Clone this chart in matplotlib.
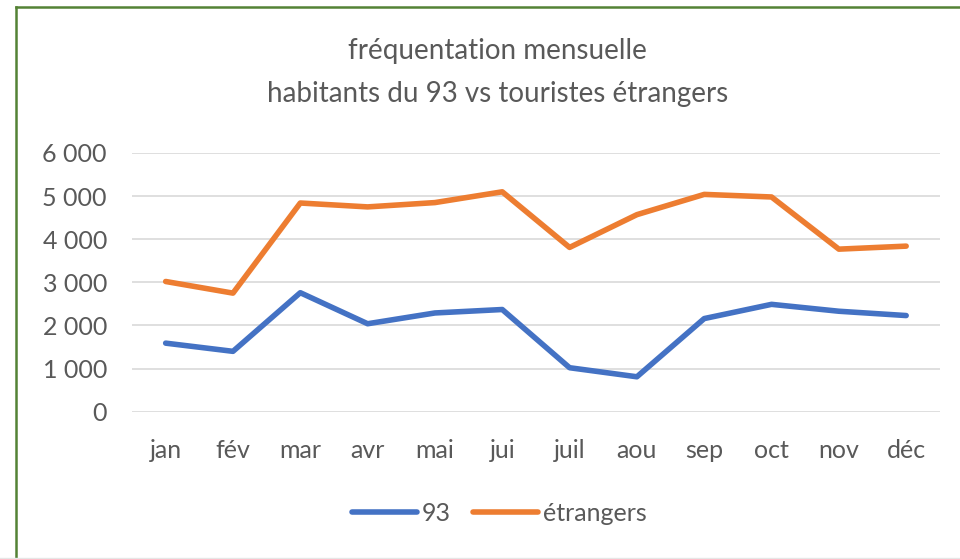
import matplotlib.pyplot as plt
from matplotlib.lines import Line2D
from matplotlib.ticker import FuncFormatter

# monthly visits
mois = ["jan", "fév", "mar", "avr", "mai", "jui", "juil", "aou", "sep", "oct", "nov", "déc"]
habitants_93 = [1590, 1400, 2760, 2040, 2290, 2370, 1020, 810, 2160, 2490, 2330, 2230]
etrangers = [3020, 2750, 4840, 4750, 4850, 5100, 3810, 4570, 5040, 4980, 3770, 3840]

plt.rcParams['font.family'] = ['Lato', 'DejaVu Sans']
gris = "#595959"

fig = plt.figure(figsize=(9.6, 5.59), dpi=100)
ax = fig.add_axes([0.1375, 0.2635, 0.8415, 0.4628])

x = range(len(mois))
ax.plot(x, habitants_93, color="#4472C4", lw=4, solid_capstyle="round", solid_joinstyle="round", label="93")
ax.plot(x, etrangers, color="#ED7D31", lw=4, solid_capstyle="round", solid_joinstyle="round", label="étrangers")

ax.set_xlim(-0.5, 11.5)
ax.set_ylim(0, 6000)
ax.set_yticks(range(0, 6001, 1000))
ax.yaxis.set_major_formatter(FuncFormatter(lambda v, p: f"{int(v):,}".replace(",", " ")))
ax.set_xticks(list(x))
ax.set_xticklabels(mois)
ax.grid(axis="y", color="#D9D9D9", lw=1.2)
ax.set_axisbelow(True)
for s in ax.spines.values():
    s.set_visible(False)
ax.tick_params(length=0, labelsize=18, colors=gris)
ax.tick_params(axis="x", pad=20)
ax.tick_params(axis="y", pad=18)

fig.text(0.518, 0.908, "fréquentation mensuelle", ha="center", va="center", fontsize=20, color=gris)
fig.text(0.518, 0.832, "habitants du 93 vs touristes étrangers", ha="center", va="center", fontsize=20, color=gris)

fig.legend(loc="center", bbox_to_anchor=(0.52, 0.082), ncol=2, frameon=False, fontsize=18,
           labelcolor=gris, handlelength=2.6, handletextpad=0.2, columnspacing=0.9)

# green frame, only left and top edges show in the screenshot
fig.add_artist(Line2D([16/960, 16/960], [0, 1 - 7/559], transform=fig.transFigure, color="#548235", lw=1.8))
fig.add_artist(Line2D([16/960, 1], [1 - 7/559, 1 - 7/559], transform=fig.transFigure, color="#548235", lw=1.8))
fig.add_artist(Line2D([0, 1], [1/559, 1/559], transform=fig.transFigure, color="#E6E6E6", lw=1))

fig.savefig("out.png", dpi=100)
